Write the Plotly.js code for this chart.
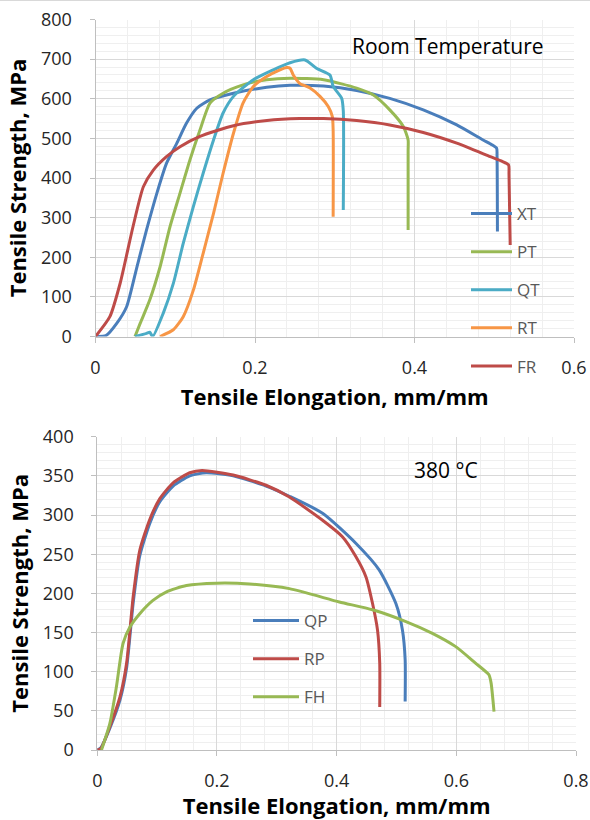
<!DOCTYPE html>
<html>
<head>
<meta charset="utf-8">
<script src="https://cdn.plot.ly/plotly-3.0.1.min.js"></script>
<style>html,body{margin:0;padding:0;background:#fff;}#chart{width:590px;height:820px;}</style>
</head>
<body>
<div id="chart"></div>
<script>
// ---- Room temperature series (elongation mm/mm, strength MPa) ----
const xtX = [0, 0.013, 0.0266, 0.039, 0.052, 0.064, 0.077, 0.089, 0.102, 0.114, 0.127, 0.1436, 0.173, 0.2147, 0.244, 0.286, 0.3275, 0.369, 0.411, 0.453, 0.486, 0.497, 0.503, 0.5035, 0.504];
const xtY = [0, 2, 33, 75, 176, 269, 362, 437, 488, 538, 576, 597, 614, 629, 634, 632, 621, 601, 572, 534, 496, 484, 475, 455, 265];

const ptX = [0.0495, 0.056, 0.068, 0.081, 0.0934, 0.106, 0.1185, 0.131, 0.1436, 0.160, 0.185, 0.2147, 0.244, 0.286, 0.3275, 0.348, 0.369, 0.386, 0.392, 0.392, 0.392];
const ptY = [0, 33, 92, 176, 277, 362, 446, 521, 589, 614, 635, 648, 652, 648, 627, 610, 572, 530, 496, 470, 269];

const qtX = [0.0495, 0.064, 0.068, 0.0717, 0.085, 0.0976, 0.110, 0.1227, 0.135, 0.148, 0.160, 0.173, 0.198, 0.223, 0.244, 0.2627, 0.277, 0.294, 0.298, 0.3087, 0.3107, 0.3107];
const qtY = [0, 8, 11, 0, 59, 134, 235, 328, 412, 496, 564, 606, 648, 673, 691, 698, 677, 660, 631, 601, 570, 319];

const rtX = [0.081, 0.0976, 0.110, 0.1227, 0.135, 0.148, 0.160, 0.173, 0.185, 0.198, 0.2147, 0.2313, 0.2397, 0.244, 0.248, 0.256, 0.269, 0.2815, 0.292, 0.297, 0.298, 0.298];
const rtY = [0, 17, 50, 117, 210, 311, 412, 513, 589, 631, 656, 673, 679, 677, 660, 639, 627, 606, 580, 555, 520, 302];

const frX = [0, 0.018, 0.031, 0.047, 0.060, 0.0725, 0.089, 0.106, 0.131, 0.173, 0.215, 0.256, 0.286, 0.3275, 0.369, 0.411, 0.453, 0.495, 0.510, 0.518, 0.5185, 0.520];
const frY = [0, 50, 135, 277, 378, 420, 454, 479, 505, 532, 545, 550, 550, 545, 534, 515, 488, 454, 442, 433, 410, 231];

// ---- 380 °C series ----
const qpX = [0, 0.006, 0.021, 0.038, 0.049, 0.060, 0.071, 0.088, 0.1045, 0.1267, 0.1545, 0.182, 0.227, 0.282, 0.321, 0.377, 0.432, 0.471, 0.499, 0.510, 0.5145, 0.5145];
const qpY = [0, 3, 28, 64, 105, 188, 248, 290, 317, 337, 350, 354, 350, 337, 324, 302, 264, 230, 187, 153, 115, 62];

const rpX = [0, 0.006, 0.021, 0.038, 0.049, 0.060, 0.071, 0.088, 0.1045, 0.1267, 0.1545, 0.175, 0.227, 0.282, 0.321, 0.377, 0.410, 0.432, 0.449, 0.460, 0.4683, 0.472, 0.472];
const rpY = [0, 2, 30, 68, 111, 196, 255, 295, 321, 341, 354, 357, 351, 338, 323, 293, 272, 247, 221, 187, 153, 111, 55];

const fhX = [0.007, 0.021, 0.032, 0.043, 0.0545, 0.071, 0.093, 0.1157, 0.149, 0.199, 0.2545, 0.321, 0.4045, 0.46, 0.5157, 0.56, 0.599, 0.632, 0.6545, 0.658, 0.663];
const fhY = [0, 34, 81, 136, 157, 174, 191, 202, 210, 213, 212, 206, 189, 179, 164, 149, 132, 111, 96, 86, 49];

// ---- labels ----
const topNames = ["XT", "PT", "QT", "RT", "FR"];
const botNames = ["QP", "RP", "FH"];
const xTitle = "Tensile Elongation, mm/mm";
const yTitle = "Tensile Strength, MPa";
const topLabel = "Room Temperature";
const botLabel = "380 °C";

const C = {blue:"#4A7EBB", green:"#98B954", red:"#BE4B48", cyan:"#4BACC6", orange:"#F79646"};
const FONT = "Open Sans, Noto Sans, sans-serif";

function tr(x, y, name, color, xa, ya, leg, grp) {
  return {x: x, y: y, name: name, type: "scatter", mode: "lines",
    line: {color: color, width: 3, shape: "spline", smoothing: 0.6},
    xaxis: xa, yaxis: ya, legend: leg, legendgroup: grp};
}

const data = [
  tr(xtX, xtY, topNames[0], C.blue, "x", "y", "legend", "a1"),
  tr(ptX, ptY, topNames[1], C.green, "x", "y", "legend", "a2"),
  tr(qtX, qtY, topNames[2], C.cyan, "x", "y", "legend", "a3"),
  tr(rtX, rtY, topNames[3], C.orange, "x", "y", "legend", "a4"),
  tr(frX, frY, topNames[4], C.red, "x", "y", "legend", "a5"),
  tr(qpX, qpY, botNames[0], C.blue, "x2", "y2", "legend2", "b1"),
  tr(rpX, rpY, botNames[1], C.red, "x2", "y2", "legend2", "b2"),
  tr(fhX, fhY, botNames[2], C.green, "x2", "y2", "legend2", "b3")
];

const TITLE_FONT = {family: FONT, size: 22, color: "#000"};

function axisBase(extra) {
  return Object.assign({
    showline: true, linecolor: "#BFBFBF", linewidth: 1,
    ticks: "outside", ticklen: 5, tickcolor: "#BFBFBF",
    showgrid: true, gridcolor: "#D9D9D9", gridwidth: 1,
    zeroline: false,
    tickfont: {family: FONT, size: 18, color: "#262626"}
  }, extra);
}

const W = 590, H = 820;
function px(v) { return v / W; }
function py(v) { return 1 - v / H; }

const layout = {
  width: W, height: H,
  margin: {l: 0, r: 0, t: 0, b: 0},
  paper_bgcolor: "#fff", plot_bgcolor: "#fff",
  font: {family: FONT},
  showlegend: true,
  xaxis: axisBase({domain: [px(95.5), px(574)], range: [0, 0.6], dtick: 0.2, tick0: 0,
    minor: {showgrid: true, gridcolor: "#EFEFEF", dtick: 0.04, ticks: ""},
    ticklabelstandoff: 10, anchor: "y",
    title: {text: "<b>" + xTitle + "</b>", font: TITLE_FONT, standoff: 11}}),
  yaxis: axisBase({domain: [py(336.5), py(19.5)], range: [0, 800], dtick: 100, tick0: 0,
    minor: {showgrid: true, gridcolor: "#EFEFEF", dtick: 20, ticks: ""},
    ticklabelstandoff: 14, anchor: "x",
    title: {text: "<b>" + yTitle + "</b>", font: TITLE_FONT, standoff: 8}}),
  xaxis2: axisBase({domain: [px(97.3), px(576)], range: [0, 0.8], dtick: 0.2, tick0: 0,
    minor: {showgrid: true, gridcolor: "#EFEFEF", dtick: 0.04, ticks: ""},
    ticklabelstandoff: 9, anchor: "y2",
    title: {text: "<b>" + xTitle + "</b>", font: TITLE_FONT, standoff: 15}}),
  yaxis2: axisBase({domain: [py(750), py(436.7)], range: [0, 400], dtick: 50, tick0: 0,
    minor: {showgrid: true, gridcolor: "#EFEFEF", dtick: 10, ticks: ""},
    ticklabelstandoff: 14, anchor: "x2",
    title: {text: "<b>" + yTitle + "</b>", font: TITLE_FONT, standoff: 8}}),
  legend: {x: px(466), y: py(196), xanchor: "left", yanchor: "top",
    bgcolor: "rgba(0,0,0,0)", borderwidth: 0, tracegroupgap: 13, traceorder: "grouped",
    itemwidth: 41, font: {family: FONT, size: 17, color: "#595959"}},
  legend2: {x: px(248), y: py(603), xanchor: "left", yanchor: "top",
    bgcolor: "rgba(0,0,0,0)", borderwidth: 0, tracegroupgap: 13, traceorder: "grouped",
    itemwidth: 46, font: {family: FONT, size: 17, color: "#595959"}},
  annotations: [
    {xref: "paper", yref: "paper", x: px(448), y: py(46), text: topLabel, showarrow: false,
      xanchor: "center", yanchor: "middle", font: {family: FONT, size: 21, color: "#000"}},
    {xref: "paper", yref: "paper", x: px(446), y: py(470), text: botLabel, showarrow: false,
      xanchor: "center", yanchor: "middle", font: {family: FONT, size: 21, color: "#000"}}
  ],
  shapes: [
    {type: "line", xref: "paper", yref: "paper", x0: 0, x1: 1, y0: py(0.5), y1: py(0.5),
      line: {color: "#D9D9D9", width: 1}}
  ]
};

Plotly.newPlot("chart", data, layout, {staticPlot: true, displayModeBar: false});
</script>
</body>
</html>
